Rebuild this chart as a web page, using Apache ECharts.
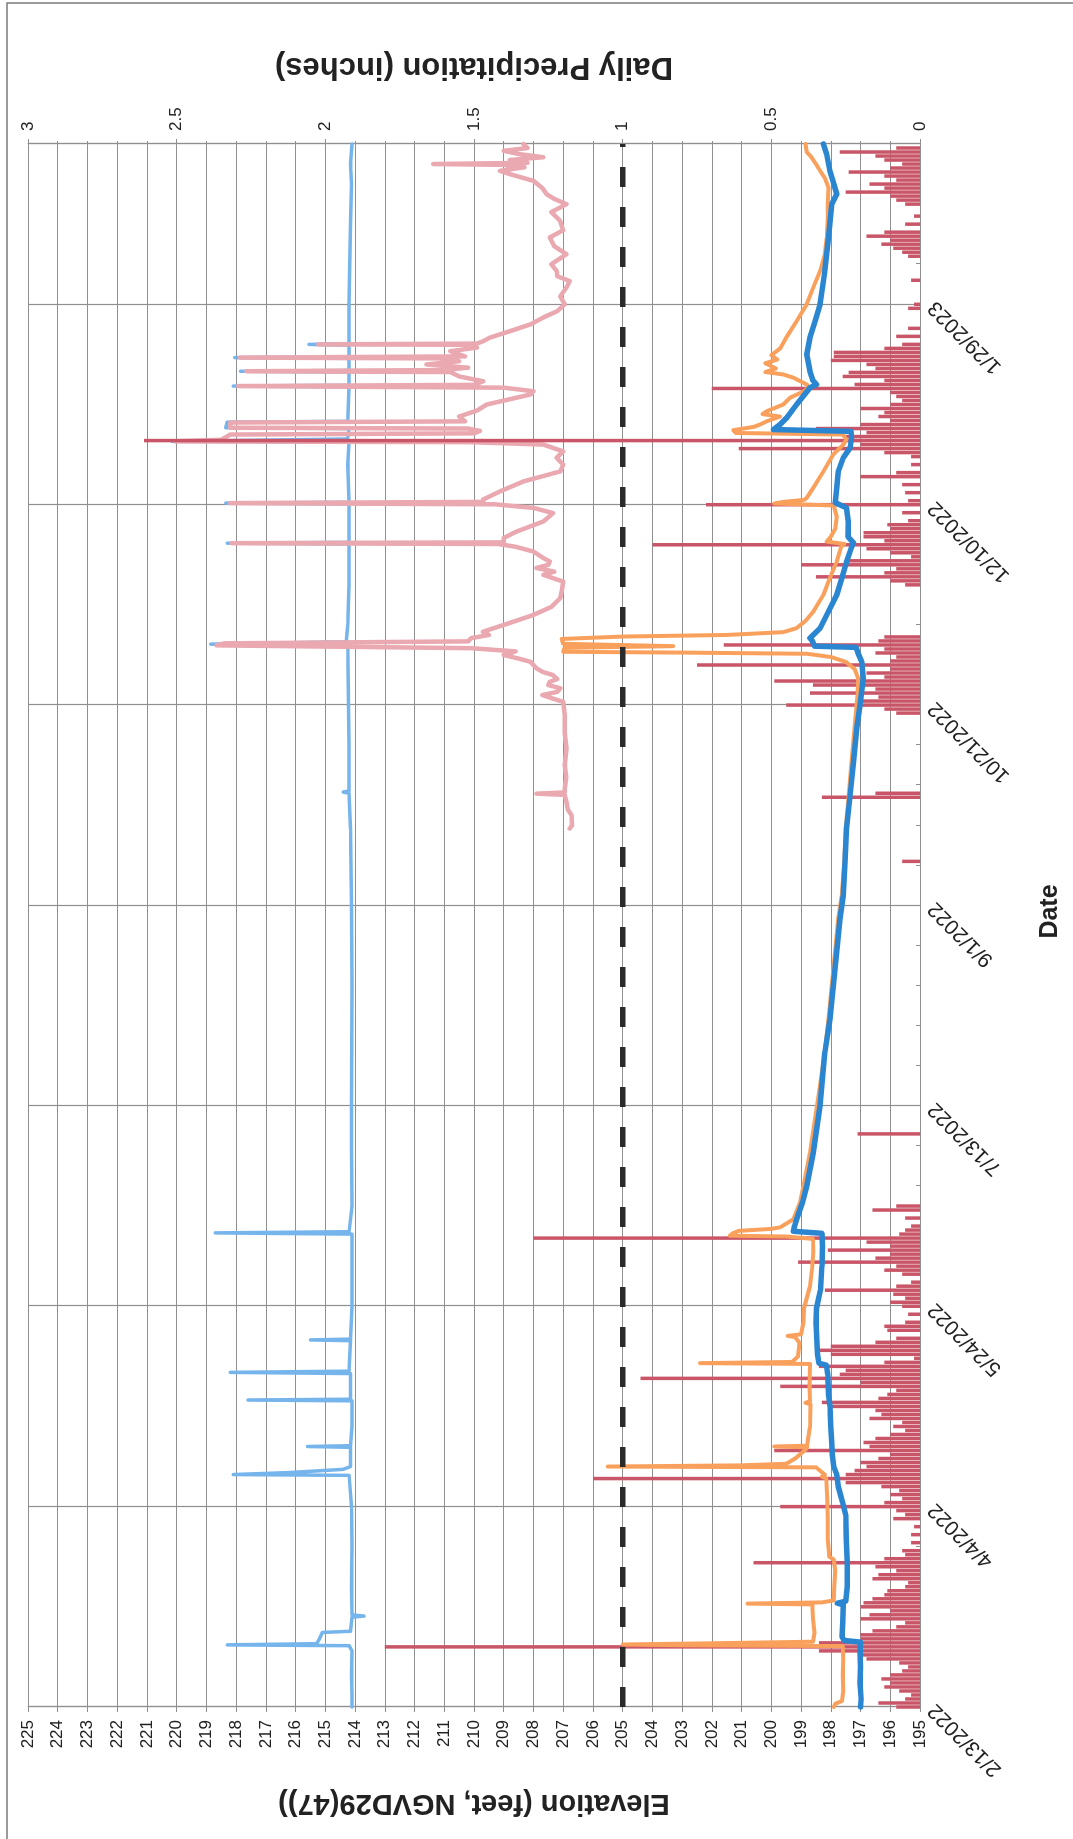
<!DOCTYPE html>
<html>
<head>
<meta charset="utf-8">
<script src="https://cdn.jsdelivr.net/npm/echarts/dist/echarts.min.js"></script>
<style>
  html, body { margin: 0; padding: 0; background: #fff; width: 1073px; height: 1839px; overflow: hidden; }
  /* the hydrograph is laid out landscape and turned a quarter turn counter-clockwise */
  #chart {
    position: absolute; left: 0; top: 0;
    width: 1839px; height: 1073px;
    transform-origin: 0 0;
    transform: translateY(1839px) rotate(-90deg);
  }
</style>
</head>
<body>
<div id="chart"></div>
<script>
// day 0 = 2/13/2022
const dateTicks = ['2/13/2022', '4/4/2022', '5/24/2022', '7/13/2022', '9/1/2022', '10/21/2022', '12/10/2022', '1/29/2023'];

// elevation series, [day, feet NGVD29(47)]
const elevSky = [
  [0,214.1],[3,214.1],[8,214.12],[14,214.1],[15.3,214.2],[15.5,218.3],[15.8,215.3],[17,215.2],[18.6,215.1],[18.9,214.15],
  [22.4,214.1],[22.7,213.7],[23,214.1],[30,214.12],[40,214.1],[50,214.12],[57.8,214.2],[58.0,218.1],[58.5,216.2],[59.3,214.4],
  [60,214.15],[64.8,214.15],[65,215.6],[65.2,214.15],[70,214.1],[76.4,214.1],[76.6,217.6],[76.8,214.15],[83.2,214.15],[83.5,218.2],
  [83.8,214.2],[91.4,214.15],[91.6,215.5],[91.8,214.15],[100,214.1],[118,214.1],[118.3,218.7],[118.6,214.2],[125,214.1],[140,214.12],
  [150,214.12],[180,214.1],[200,214.12],[219,214.15],[228,214.2],[228.3,214.4],[228.6,214.2],[240,214.2],[250,214.22],[264.8,214.25],
  [265.2,218.85],[265.8,214.3],[270,214.25],[280,214.2],[290.2,214.2],[290.4,218.3],[290.6,214.2],[300.2,214.2],[300.4,218.35],[300.6,214.2],
  [310,214.25],[315.6,214.2],[315.8,220.15],[316.4,214.25],[319,214.2],[319.2,218.35],[320.6,218.3],[320.8,214.25],[329.4,214.2],[329.6,218.1],
  [329.8,214.2],[333.1,214.2],[333.3,217.85],[333.5,214.2],[336.5,214.2],[336.7,218.05],[336.9,214.2],[339.8,214.2],[340,215.55],[340.2,214.2],
  [350,214.2],[360,214.18],[370,214.15],[380,214.12],[385,214.15],[390,214.1]
];

const elevPink = [
  [219.2,206.78],[220,206.7],[222.5,206.72],[224,206.85],[225.8,206.89],[227.6,206.95],[227.9,207.9],[228.2,206.95],[229.2,206.95],[232,206.9],
  [235,206.95],[239.2,206.89],[243,206.95],[247.5,206.95],[250.8,207.0],[251.5,207.3],[252.5,207.7],[253.3,207.2],[254.2,207.1],[255,207.5],
  [255.8,207.45],[256.5,207.2],[257.5,207.35],[258.3,207.7],[259.2,207.9],[260.8,208.1],[261.6,208.5],[262.5,209.0],[263.4,208.6],[264.2,210.1],
  [264.9,218.66],[265.4,218.4],[265.9,210.2],[266.7,210.1],[267.5,209.5],[268.3,209.7],[270,209.0],[272.5,208.0],[274.5,207.4],[276.7,207.1],
  [278.5,207.05],[280.8,207.0],[282.5,207.67],[283.3,207.3],[284.2,207.9],[285,207.5],[285.8,207.45],[286.7,207.67],[288.3,208.0],[289.5,208.6],
  [290.2,209.2],[290.4,218.15],[290.6,209.0],[291.7,209.0],[293.3,208.57],[295.8,207.67],[297.9,207.34],[299.2,208.0],[300.1,209.3],[300.4,218.2],
  [300.7,209.69],[301.3,209.69],[303.3,209.13],[305.8,208.34],[308.3,207.1],[310,207.0],[311.7,207.22],[313.3,207.0],[315,207.67],[315.6,210.1],
  [315.8,220.05],[316.2,218.5],[317.5,218.2],[317.8,210],[318.4,209.8],[319,210.2],[319.2,218.2],[320.5,218.2],[320.8,210.3],[322,210.5],
  [323.5,209.9],[325,209.57],[327.5,208.1],[328.3,208.0],[329.2,209.0],[329.6,217.93],[329.9,210.0],[330.8,209.69],[332,210.5],[333.1,210.8],
  [333.3,217.65],[333.6,211.0],[334.2,210.2],[335,211.6],[335.8,210.5],[336.5,210.8],[336.7,217.87],[337,210.3],[338.3,210.8],[339.2,209.9],
  [339.9,210.2],[340,215.24],[340.2,209.9],[340.8,209.69],[341.7,209.46],[343.3,208.79],[345,208.1],[346.7,207.67],[348.3,207.2],[350,206.95],
  [352,207.1],[354.2,206.89],[355.8,206.78],[357,207.2],[358.3,207.22],[360,207.4],[362.5,206.89],[364.5,207.3],[366.7,207.45],[368.5,207.0],
  [370.8,207.1],[373,207.4],[375,206.89],[376.3,207.3],[377.5,207.56],[379,207.7],[380.8,208.0],[382.5,208.8],[383.3,209.13],[384.2,208.3],
  [384.8,209.0],[385,211.37],[385.3,208.2],[386,208.8],[386.7,207.67],[387.5,208.5],[388.3,209.0],[389,208.2],[390,208.34]
];

const elevOrange = [
  [0,197.9],[0.8,197.85],[1.5,197.62],[4,197.58],[8,197.6],[12,197.58],[15.2,197.6],[15.4,203],[15.6,205.0],[15.9,202],
  [16.3,198.6],[18.5,198.55],[22,198.6],[25.6,198.62],[25.8,200.8],[26.1,198.3],[26.6,197.9],[30,197.88],[34,197.85],[36.8,197.9],
  [37.5,198.05],[42,198.1],[47,198.1],[52,198.12],[57,198.15],[57.5,198.3],[58,198.2],[59.8,198.5],[60,205.5],[60.3,201],
  [60.7,199.5],[62,199.2],[64.2,198.85],[64.8,198.8],[65,199.9],[65.2,198.8],[70,198.7],[75.5,198.68],[75.9,198.85],[76.3,198.7],
  [80,198.72],[85.6,198.7],[85.8,202.4],[86.1,199.3],[87.5,199.1],[90.8,199.05],[92.3,199.2],[92.6,199.45],[93,199.0],[96,198.92],
  [99.5,198.9],[105,198.7],[110,198.62],[113.3,198.59],[116.8,198.6],[117.4,199.5],[117.6,201.4],[118.2,201.3],[118.8,201.1],[119.3,200.0],
  [119.7,199.7],[121.7,199.26],[125.8,199.04],[130,198.92],[138.3,198.7],[146.7,198.53],[155,198.36],[163.3,198.2],[171.7,198.08],[180,197.97],
  [188.3,197.86],[196.7,197.75],[202.5,197.63],[210.8,197.55],[219.2,197.5],[227.5,197.4],[235.8,197.3],[244.2,197.2],[252.5,197.1],[256.7,197.08],
  [259,197.2],[260.8,197.5],[262,198.0],[262.8,198.8],[263.1,203],[263.3,207.0],[264.3,206.95],[264.7,203.3],[265.3,207.0],[266.5,207.05],
  [267.1,205],[267.5,201.5],[268.2,199.6],[269.2,199.15],[271,198.85],[273.3,198.59],[277.5,198.25],[281.7,198.03],[285.8,197.8],[289.5,197.65],
  [290.2,197.55],[290.8,198.14],[292,198.0],[294,197.85],[297,197.8],[299.8,197.9],[300.3,199.9],[300.7,199.6],[301.2,198.9],[301.7,198.81],
  [304.2,198.59],[308.3,198.25],[312.5,197.92],[315,197.58],[316.3,197.47],[317.5,197.6],[317.9,201.2],[318.6,201.28],[319.4,200.6],[320,200.38],
  [320.8,200.16],[322,199.71],[322.6,200.3],[323.3,200.16],[325,199.6],[326.7,199.37],[328.3,198.9],[329.3,198.75],[330,198.81],[331.7,199.26],
  [332.5,199.6],[333.1,200.2],[334,199.85],[335.3,200.2],[336.2,199.8],[337.3,200.0],[339,199.7],[341.7,199.5],[345.8,199.15],[350,198.81],
  [354.2,198.59],[358.3,198.36],[362.5,198.2],[366.7,198.14],[371,198.1],[375,198.1],[379.2,198.08],[381.5,198.2],[383.3,198.36],[385,198.5],
  [386.7,198.65],[388,198.81],[390,198.85]
];

const elevBlue = [
  [0,197.0],[2,196.98],[6,197.02],[10,197.0],[14,197.02],[16.2,197.0],[16.6,197.55],[17.5,197.62],[21,197.6],[25.5,197.58],
  [25.9,197.78],[26.4,197.5],[30,197.45],[36,197.45],[42,197.48],[48,197.5],[51,197.6],[55,197.75],[58,197.8],[60,197.9],
  [63,197.95],[66,197.97],[70,198.0],[75,198.03],[78,198.08],[83,198.1],[85.3,198.15],[85.8,198.4],[88,198.45],[92,198.47],
  [96,198.5],[99.5,198.48],[104,198.35],[110,198.3],[115,198.28],[118.2,198.3],[118.7,199.26],[120,199.22],[121.7,199.15],[126,198.95],
  [130,198.81],[138.3,198.59],[150,198.36],[163.3,198.2],[171.7,198.03],[184.2,197.86],[196.7,197.69],[202.5,197.58],[210.8,197.52],[219.2,197.47],
  [227.5,197.35],[235.8,197.24],[244.2,197.13],[250,197.02],[256.7,196.91],[260.8,196.96],[262.9,197.08],[264.4,197.15],[264.7,198.55],[266,198.62],
  [266.7,198.7],[269.2,198.36],[273.3,198.08],[277.5,197.8],[281.7,197.63],[285.8,197.47],[289,197.32],[290.5,197.24],[292,197.42],[295.8,197.41],
  [299.2,197.47],[300.5,197.85],[304.2,197.8],[308.3,197.75],[311.7,197.58],[314.2,197.35],[316.7,197.3],[318.3,197.32],[318.75,199.93],[320,199.71],
  [321.7,199.48],[325,199.15],[329.2,198.7],[330,198.48],[331,198.6],[333.3,198.7],[337.5,198.81],[341.7,198.7],[345.8,198.53],[350,198.36],
  [358.3,198.2],[366.7,198.08],[375,197.97],[377.5,197.8],[380,197.9],[383.3,198.03],[387.5,198.14],[390,198.25]
];

const datumLevel = 205;

// daily precipitation (inches)
const precipDays = [
  0,1,2,3,4,5,6,7,8,9,10,11,12,13,14,15,16,17,18,19,20,21,22,23,24,25,26,27,28,29,30,31,32,33,34,35,36,37,38,39,41,43,45,47,48,49,
  50,51,52,53,54,55,56,57,58,59,60,61,62,63,64,65,66,67,68,69,70,71,72,73,74,75,76,77,78,79,80,81,82,83,84,85,86,87,88,89,90,91,92,94,95,96,98,
  100,101,102,103,104,105,106,108,109,110,111,112,113,114,115,116,117,118,119,120,122,124,125,143,
  211,227,228,248,249,250,251,252,253,254,255,256,257,258,259,260,261,262,263,264,265,266,267,
  280,281,282,283,284,285,286,287,288,289,290,291,292,293,294,295,296,298,
  300,301,303,305,307,308,310,312,313,314,315,316,317,318,319,320,321,322,323,324,325,326,327,328,329,
  330,331,332,333,334,335,336,337,338,339,340,342,344,349,350,356,362,363,364,365,366,367,368,370,372,
  375,376,377,378,379,380,381,382,383,384,385,386,387,388,389
];
const precipInches = [
  0.08,0.14,0.05,0.03,0.07,0.12,0.10,0.13,0.10,0.06,0.04,0.07,0.18,0.20,0.34,1.80,0.34,0.20,0.20,0.16,0.08,0.05,0.20,0.17,0.10,0.20,0.19,0.16,0.12,0.11,0.05,0.04,0.16,0.14,0.08,0.15,0.56,0.12,0.05,0.06,0.03,0.03,0.02,0.09,0.05,0.08,
  0.47,0.12,0.06,0.10,0.07,0.13,0.25,1.10,0.25,0.22,0.18,0.20,0.14,0.10,0.49,0.17,0.19,0.15,0.10,0.05,0.09,0.06,0.17,0.13,0.15,0.30,0.33,0.14,0.11,0.08,0.47,0.20,0.94,0.27,0.25,0.34,0.12,0.02,0.30,0.34,0.30,0.15,0.08,0.11,0.12,0.05,0.04,
  0.06,0.10,0.05,0.09,0.32,0.08,0.03,0.06,0.12,0.08,0.41,0.15,0.10,0.31,0.10,0.18,1.30,0.07,0.05,0.03,0.05,0.16,0.08,0.21,
  0.06,0.33,0.15,0.08,0.12,0.45,0.21,0.14,0.37,0.15,0.36,0.49,0.12,0.18,0.10,0.75,0.10,0.08,0.15,0.12,0.66,0.14,0.12,
  0.05,0.10,0.35,0.12,0.08,0.40,0.25,0.03,0.10,0.18,0.90,0.12,0.19,0.19,0.10,0.11,0.04,0.06,
  0.72,0.04,0.05,0.06,0.20,0.08,0.03,0.03,0.12,0.61,0.20,2.61,0.25,0.18,0.35,0.20,0.10,0.14,0.12,0.20,0.10,0.06,0.08,0.10,0.70,
  0.22,0.12,0.26,0.24,0.15,0.18,0.30,0.29,0.29,0.12,0.06,0.08,0.04,0.04,0.02,0.03,0.04,0.06,0.09,0.13,0.10,0.18,0.12,0.05,0.02,
  0.05,0.08,0.10,0.25,0.12,0.17,0.08,0.12,0.24,0.10,0.06,0.12,0.15,0.27,0.08
];

const precipData = precipDays.map((d, i) => [d, precipInches[i]]);
const dayMax = 390;

const gridColor = '#8f8f8f';
const textColor = '#222';
const fontFamily = '"Liberation Sans", Arial, sans-serif';

const chart = echarts.init(document.getElementById('chart'), null, { renderer: 'canvas' });

function lineSeries(name, data, color, width, z) {
  return {
    name, type: 'line', data, xAxisIndex: 0, yAxisIndex: 0,
    showSymbol: false, symbol: 'none', sampling: null, z,
    lineStyle: { color, width, join: 'round', cap: 'round' },
    animation: false
  };
}

chart.setOption({
  animation: false,
  backgroundColor: '#fff',
  textStyle: { fontFamily },
  grid: { left: 132, right: 144, top: 28, bottom: 153, containLabel: false },
  graphic: [{
    type: 'polyline',
    shape: { points: [[-5, 7], [1836, 7], [1836, 1080]] },
    style: { stroke: '#7a7a7a', lineWidth: 1.5, fill: null },
    silent: true
  }],
  xAxis: {
    type: 'value', min: 0, max: dayMax, interval: 50,
    axisLine: { show: true, onZero: false, lineStyle: { color: gridColor, width: 1.2 } },
    axisTick: { show: true, inside: true, length: 5, lineStyle: { color: gridColor } },
    minorTick: { show: true, splitNumber: 5, length: 4, lineStyle: { color: gridColor } },
    splitLine: { show: true, lineStyle: { color: gridColor, width: 1.2 } },
    axisLabel: {
      rotate: 45, margin: 12, fontSize: 21, color: textColor, fontFamily,
      showMaxLabel: false,
      formatter: v => (v % 50 === 0 ? (dateTicks[v / 50] || '') : '')
    },
    name: 'Date', nameLocation: 'middle', nameGap: 118,
    nameTextStyle: { fontSize: 25, fontWeight: 'bold', color: textColor, fontFamily, padding: [0, 0, 0, 28] }
  },
  yAxis: [{
    type: 'value', min: 195, max: 225, interval: 1, position: 'left',
    axisLine: { show: true, onZero: false, lineStyle: { color: gridColor, width: 1.2 } },
    axisTick: { show: true, length: 5, lineStyle: { color: gridColor } },
    splitLine: { show: true, lineStyle: { color: gridColor, width: 1.2 } },
    axisLabel: { fontSize: 17, color: textColor, margin: 13, fontFamily },
    name: 'Elevation (feet, NGVD29(47))', nameLocation: 'middle', nameGap: 82, nameRotate: 90,
    nameTextStyle: { fontSize: 29, fontWeight: 'bold', color: textColor, fontFamily }
  }, {
    type: 'value', min: 0, max: 3, interval: 0.5, position: 'right',
    axisLine: { show: true, onZero: false, lineStyle: { color: gridColor, width: 1.2 } },
    axisTick: { show: true, length: 5, lineStyle: { color: gridColor } },
    minorTick: { show: true, splitNumber: 5, length: 3, lineStyle: { color: gridColor } },
    splitLine: { show: false },
    axisLabel: { fontSize: 17, color: textColor, margin: 13, fontFamily },
    name: 'Daily Precipitation (inches)', nameLocation: 'middle', nameGap: 62, nameRotate: 90,
    nameTextStyle: { fontSize: 31, fontWeight: 'bold', color: textColor, fontFamily }
  }],
  series: [
    lineSeries('sky', elevSky, '#76b5ec', 3.5, 2),
    lineSeries('pink', elevPink, '#eaa8b1', 4.5, 3),
    {
      name: 'precip', type: 'bar', data: precipData, xAxisIndex: 0, yAxisIndex: 1,
      barWidth: 3.5, z: 4, itemStyle: { color: '#c95668' }, animation: false
    },
    lineSeries('orange', elevOrange, '#f9a15c', 4, 5),
    lineSeries('blue', elevBlue, '#2b86d2', 5.5, 6),
    {
      name: 'datum', type: 'line', xAxisIndex: 0, yAxisIndex: 0, z: 7,
      data: [[0, datumLevel], [dayMax, datumLevel]],
      showSymbol: false, symbol: 'none',
      lineStyle: { color: '#2a2a2a', width: 5.5, type: [20, 20] },
      animation: false
    }
  ]
});
</script>
</body>
</html>
